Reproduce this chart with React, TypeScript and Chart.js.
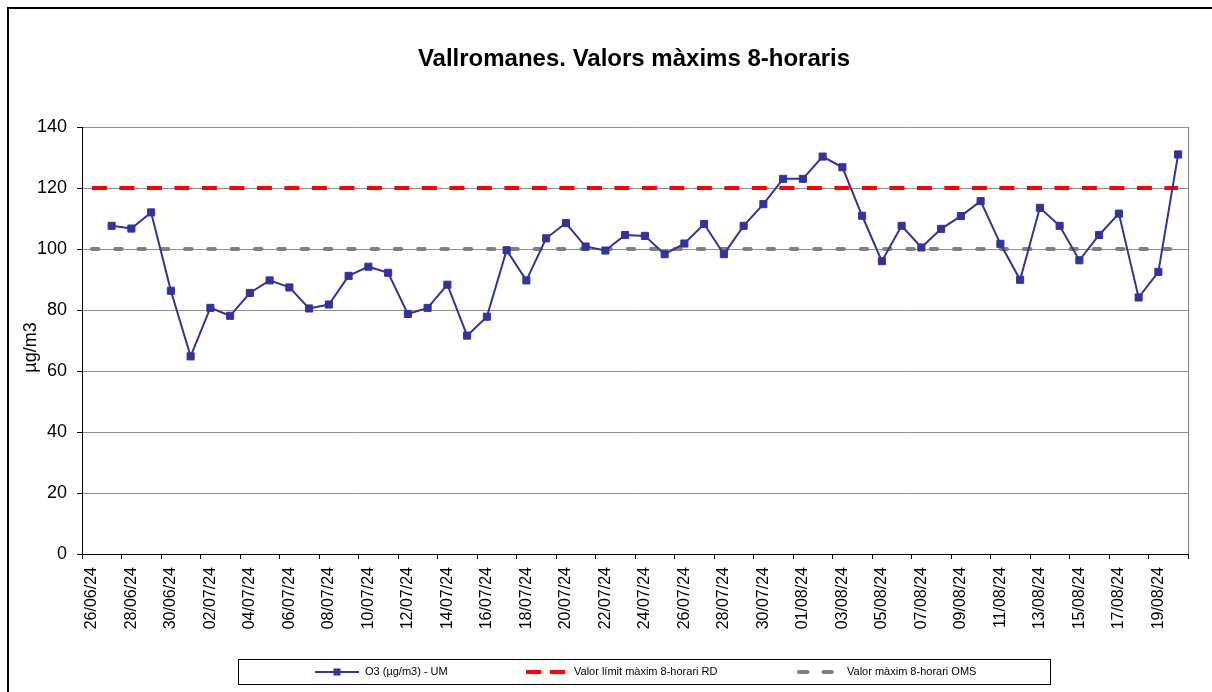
import React, { useEffect, useRef } from 'react';
import { Chart, registerables } from 'chart.js';

Chart.register(...registerables);

const TITLE = 'Vallromanes. Valors màxims 8-horaris';
const Y_TITLE = 'µg/m3';
const FONT = '"Liberation Sans", Arial, Helvetica, sans-serif';

const dates = [
  '26/06/24', '27/06/24', '28/06/24', '29/06/24', '30/06/24',
  '01/07/24', '02/07/24', '03/07/24', '04/07/24', '05/07/24', '06/07/24', '07/07/24', '08/07/24',
  '09/07/24', '10/07/24', '11/07/24', '12/07/24', '13/07/24', '14/07/24', '15/07/24', '16/07/24',
  '17/07/24', '18/07/24', '19/07/24', '20/07/24', '21/07/24', '22/07/24', '23/07/24', '24/07/24',
  '25/07/24', '26/07/24', '27/07/24', '28/07/24', '29/07/24', '30/07/24', '31/07/24',
  '01/08/24', '02/08/24', '03/08/24', '04/08/24', '05/08/24', '06/08/24', '07/08/24', '08/08/24',
  '09/08/24', '10/08/24', '11/08/24', '12/08/24', '13/08/24', '14/08/24', '15/08/24', '16/08/24',
  '17/08/24', '18/08/24', '19/08/24', '20/08/24',
];

const o3Values = [
  null, 107.6, 106.7, 112.0, 86.3,
  64.8, 80.7, 78.1, 85.6, 89.7, 87.4, 80.5, 81.8,
  91.2, 94.2, 92.2, 78.7, 80.7, 88.3, 71.6, 77.8,
  99.6, 89.7, 103.5, 108.5, 100.8, 99.5, 104.6, 104.3,
  98.3, 101.8, 108.2, 98.3, 107.6, 114.7, 123.0,
  123.0, 130.3, 126.8, 110.9, 96.0, 107.6, 100.5, 106.6,
  110.8, 115.7, 101.7, 89.9, 113.5, 107.6, 96.3, 104.6,
  111.6, 84.1, 92.5, 131.0,
];

const RD_LIMIT = 120;
const OMS_LIMIT = 100;

const seriesLabels = [
  'O3 (µg/m3) - UM',
  'Valor límit màxim 8-horari RD',
  'Valor màxim 8-horari OMS',
];

const Y_MIN = 0;
const Y_MAX = 140;
const Y_STEP = 20;

const O3_COLOR = '#333399';
const RD_COLOR = '#FF0000';
const OMS_COLOR = '#808080';

export default function App() {
  const ref = useRef<HTMLCanvasElement | null>(null);

  useEffect(() => {
    document.body.style.overflow = 'hidden';
    const canvas = ref.current;
    if (!canvas) return;

    const decor = {
      id: 'decor',
      beforeDatasetsDraw(chart: any) {
        const { ctx, chartArea } = chart;
        ctx.save();
        ctx.strokeStyle = '#808080';
        ctx.lineWidth = 1;
        ctx.beginPath();
        ctx.moveTo(Math.round(chartArea.right) + 0.5, chartArea.top);
        ctx.lineTo(Math.round(chartArea.right) + 0.5, chartArea.bottom);
        ctx.stroke();
        ctx.restore();
      },
      afterDraw(chart: any) {
        const { ctx } = chart;
        ctx.save();
        // Title
        ctx.fillStyle = '#000';
        ctx.font = `bold 24px ${FONT}`;
        ctx.textAlign = 'center';
        ctx.textBaseline = 'alphabetic';
        ctx.fillText(TITLE, 634, 65.5);

        // Y axis title
        ctx.save();
        ctx.translate(31, 347.5);
        ctx.rotate(-Math.PI / 2);
        ctx.font = `18px ${FONT}`;
        ctx.textAlign = 'center';
        ctx.textBaseline = 'middle';
        ctx.fillText(Y_TITLE, 0, 0);
        ctx.restore();

        // Legend box
        ctx.strokeStyle = '#000';
        ctx.lineWidth = 1;
        ctx.setLineDash([]);
        ctx.strokeRect(238.5, 659.5, 812, 25);

        const ly = 672;
        const ds = chart.data.datasets;

        // item 1
        ctx.strokeStyle = ds[0].borderColor;
        ctx.lineWidth = 2;
        ctx.beginPath();
        ctx.moveTo(315, ly);
        ctx.lineTo(359, ly);
        ctx.stroke();
        ctx.fillStyle = ds[0].borderColor;
        ctx.fillRect(333.5, ly - 3.5, 7, 7);

        // item 2
        ctx.strokeStyle = ds[1].borderColor;
        ctx.lineWidth = 4;
        ctx.lineCap = 'butt';
        ctx.setLineDash([15, 9]);
        ctx.beginPath();
        ctx.moveTo(526, ly);
        ctx.lineTo(565, ly);
        ctx.stroke();

        // item 3
        ctx.strokeStyle = ds[2].borderColor;
        ctx.lineCap = 'round';
        ctx.setLineDash([8.5, 16]);
        ctx.beginPath();
        ctx.moveTo(799, ly);
        ctx.lineTo(832, ly);
        ctx.stroke();
        ctx.setLineDash([]);
        ctx.lineCap = 'butt';

        ctx.fillStyle = '#000';
        ctx.font = `11px ${FONT}`;
        ctx.textAlign = 'left';
        ctx.textBaseline = 'middle';
        ctx.fillText(ds[0].label, 365, ly);
        ctx.fillText(ds[1].label, 574, ly);
        ctx.fillText(ds[2].label, 847, ly);
        ctx.restore();
      },
    };

    const chart = new Chart(canvas, {
      type: 'line',
      data: {
        labels: dates,
        datasets: [
          {
            label: seriesLabels[0],
            data: o3Values,
            borderColor: O3_COLOR,
            backgroundColor: O3_COLOR,
            borderWidth: 2,
            pointStyle: 'rect',
            pointRadius: 5,
            pointBorderWidth: 1,
            pointBackgroundColor: O3_COLOR,
            pointBorderColor: O3_COLOR,
            tension: 0,
          },
          {
            label: seriesLabels[1],
            data: dates.map(() => RD_LIMIT),
            borderColor: RD_COLOR,
            backgroundColor: RD_COLOR,
            borderWidth: 4,
            borderDash: [15, 12.5],
            borderCapStyle: 'butt',
            pointRadius: 0,
          },
          {
            label: seriesLabels[2],
            data: dates.map(() => OMS_LIMIT),
            borderColor: OMS_COLOR,
            backgroundColor: OMS_COLOR,
            borderWidth: 4,
            borderDash: [6.5, 16.8],
            borderCapStyle: 'round',
            pointRadius: 0,
          },
        ],
      },
      options: {
        responsive: false,
        animation: false,
        devicePixelRatio: 1,
        layout: { padding: { left: 0, top: 127, right: 24, bottom: 0 } },
        plugins: {
          legend: { display: false },
          title: { display: false },
          tooltip: { enabled: false },
        },
        scales: {
          x: {
            offset: true,
            grid: {
              offset: true,
              drawOnChartArea: false,
              drawTicks: true,
              tickLength: 5,
              tickWidth: 1,
              tickColor: (ctx: any) =>
                ctx.index === undefined || ctx.index % 2 === 0 ? '#000' : 'rgba(0,0,0,0)',
            },
            border: { display: true, color: '#000', width: 1 },
            ticks: {
              autoSkip: false,
              maxRotation: 90,
              minRotation: 90,
              padding: 8,
              color: '#000',
              font: { family: FONT, size: 16 },
              callback: (_v: any, i: number) => (i % 2 === 0 ? dates[i] : ''),
            },
            afterFit: (s: any) => {
              s.height = 138;
            },
          },
          y: {
            min: Y_MIN,
            max: Y_MAX,
            ticks: {
              stepSize: Y_STEP,
              padding: 10,
              color: '#000',
              font: { family: FONT, size: 18 },
            },
            grid: {
              color: '#8f8f8f',
              lineWidth: 1,
              tickLength: 5,
              tickColor: '#000',
            },
            border: { display: true, color: '#000', width: 1 },
            afterFit: (s: any) => {
              s.width = 82;
            },
          },
        },
      },
      plugins: [decor],
    } as any);

    return () => chart.destroy();
  }, []);

  return (
    <>
      <div
        style={{
          position: 'fixed',
          left: 7,
          top: 7,
          width: 1300,
          height: 800,
          border: '2px solid #000',
          boxSizing: 'border-box',
        }}
      />
      <canvas
        ref={ref}
        width={1212}
        height={692}
        style={{ position: 'fixed', left: 0, top: 0, width: 1212, height: 692, display: 'block' }}
      />
    </>
  );
}
